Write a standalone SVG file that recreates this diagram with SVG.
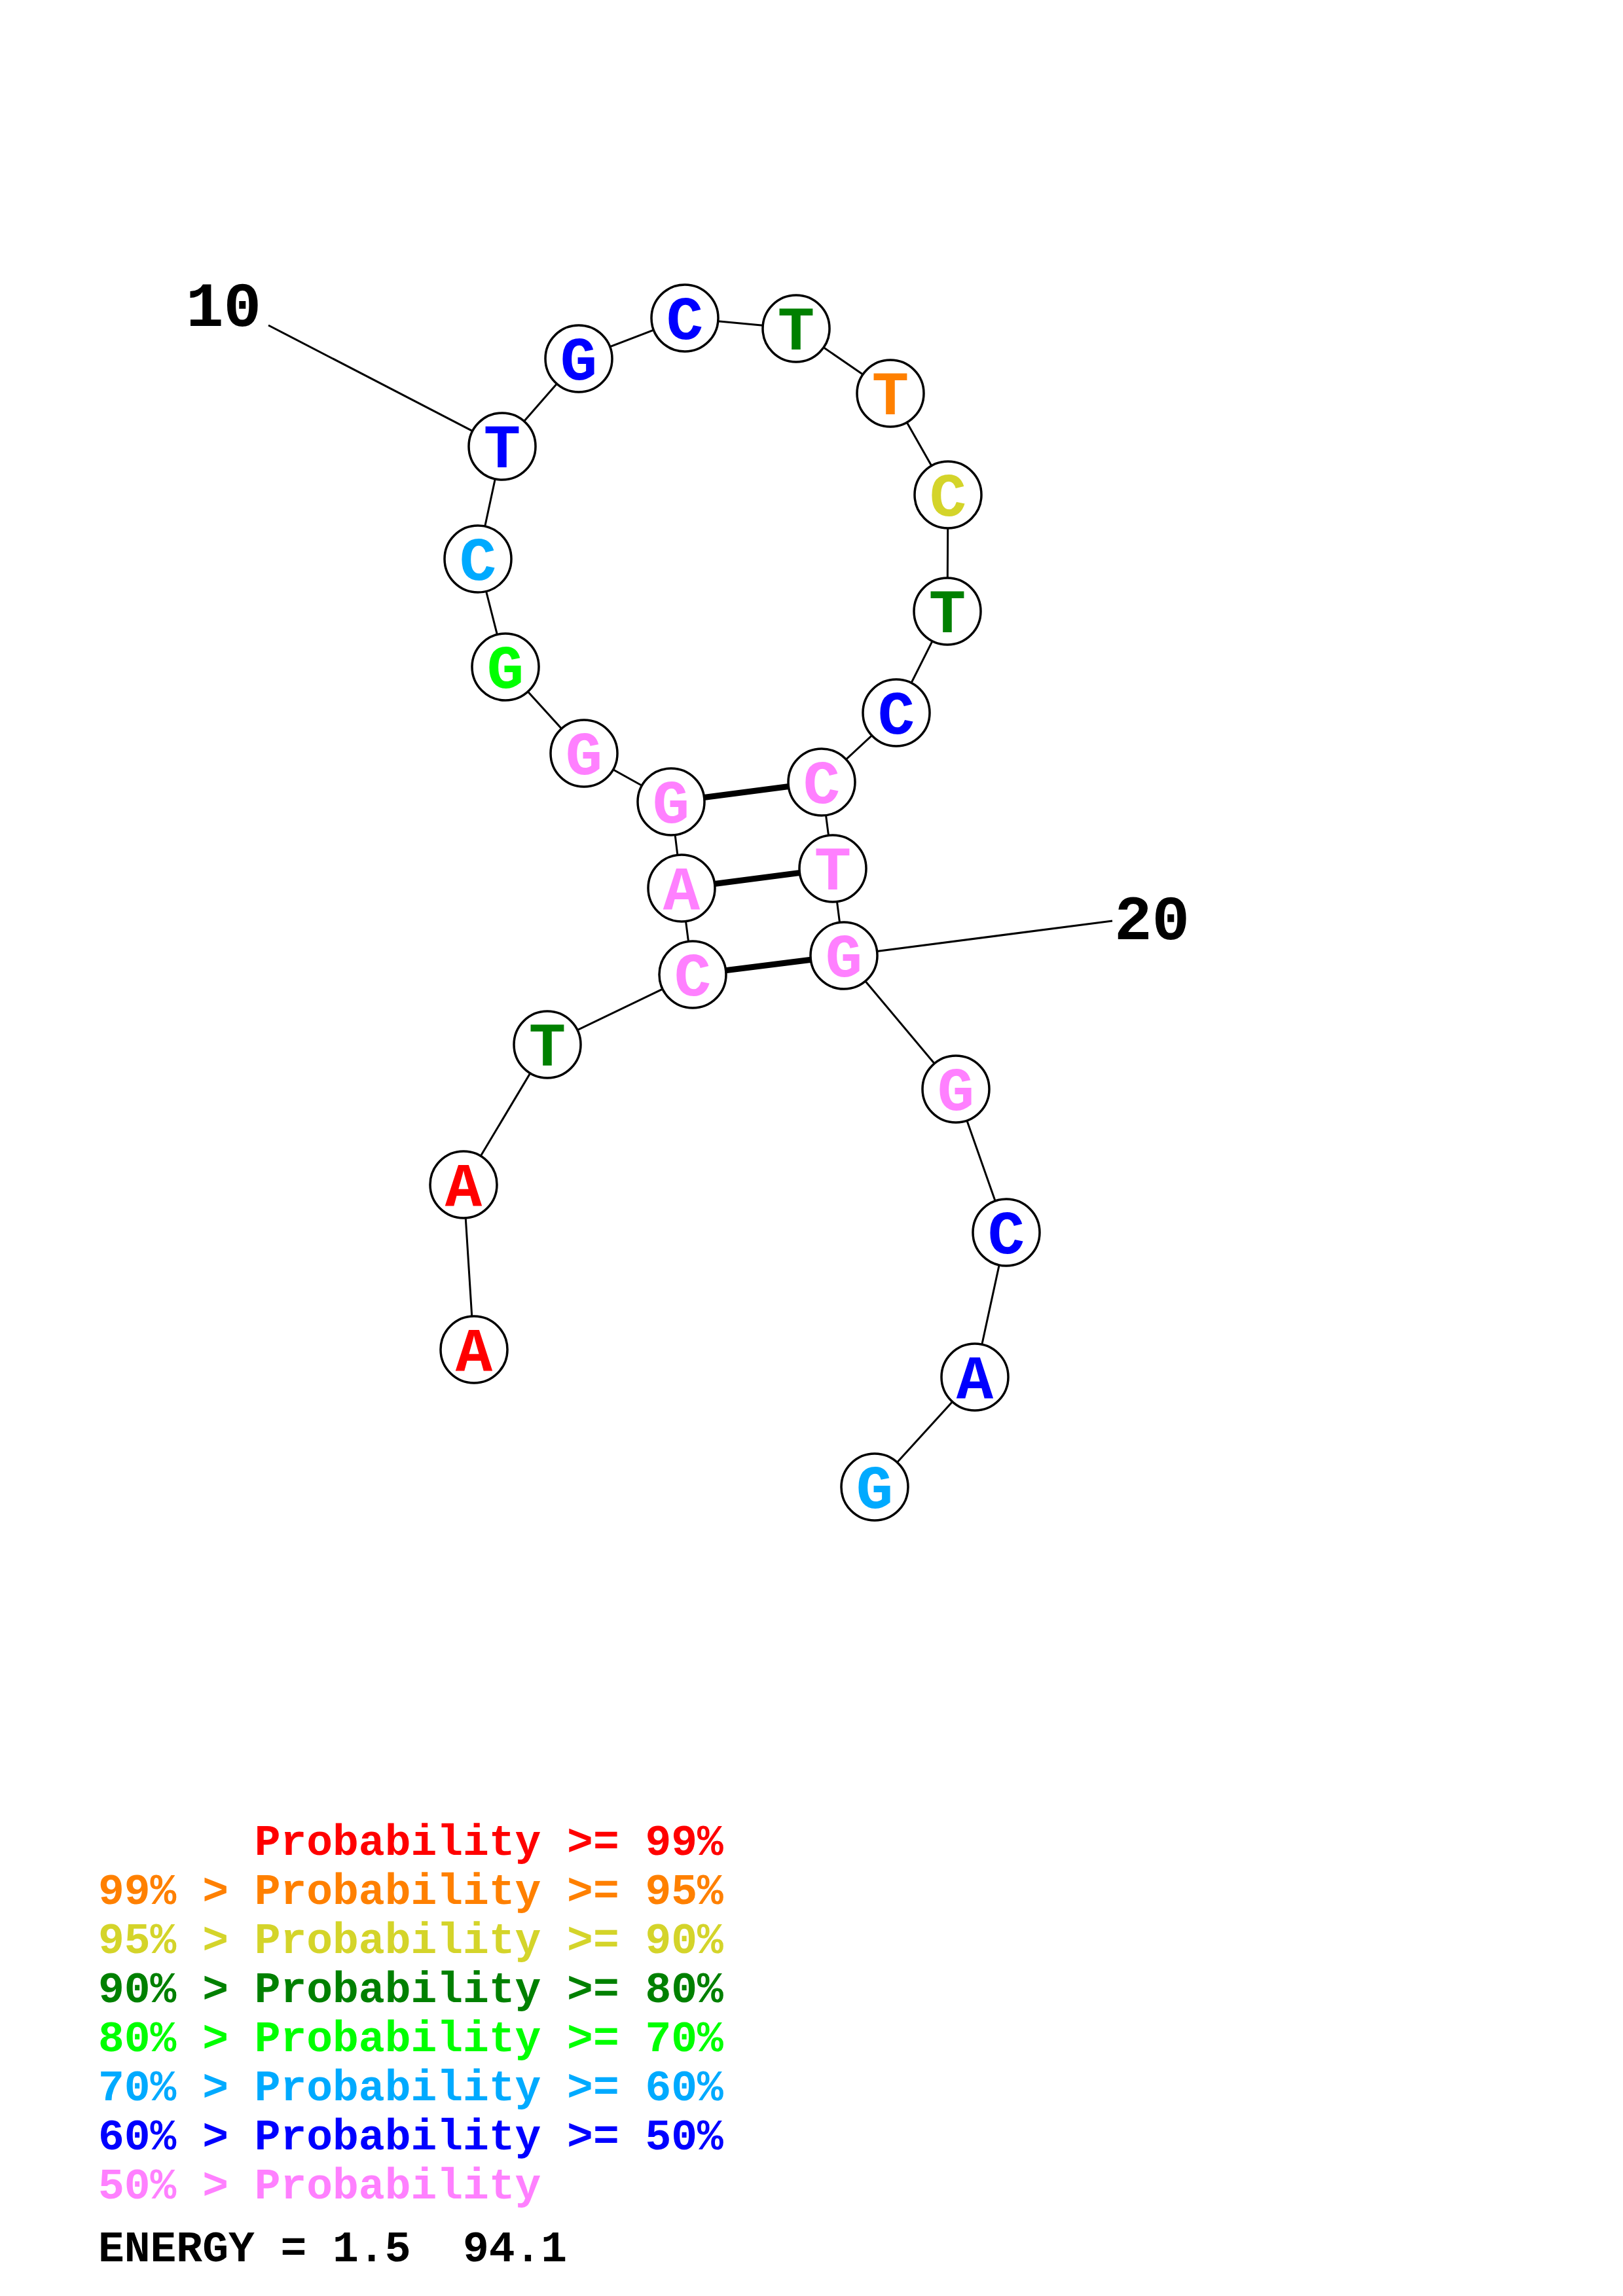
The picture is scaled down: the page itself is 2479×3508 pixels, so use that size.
<svg xmlns="http://www.w3.org/2000/svg" width="2479" height="3508" viewBox="0 0 2479 3508">
<style>
.bb{stroke:#000;stroke-width:3;fill:none}
.bp{stroke:#000;stroke-width:9;fill:none}
.nc{fill:#fff;stroke:#000;stroke-width:3.5}
.nl{font-family:"Liberation Mono","Courier New",monospace;font-weight:bold;font-size:94px;text-anchor:middle}
.lbl{font-family:"Liberation Mono","Courier New",monospace;font-weight:bold;font-size:96px;fill:#000}
.lg{font-family:"Liberation Mono","Courier New",monospace;font-weight:bold;font-size:66.3px;white-space:pre}
.r{fill:#FF0000}.o{fill:#FF8000}.y{fill:#D4D42A}.dg{fill:#008000}.g{fill:#00FF00}.s{fill:#00AAFF}.b{fill:#0000FF}.p{fill:#FF80FF}
</style>
<rect width="2479" height="3508" fill="#fff"/>
<g id="connectors">
<polyline class="bb" points="724,2062 708,1810 836,1596 1058,1489 1041,1357 1025,1225 892,1151 772,1019 730,854 767,682 884,548 1046,486 1216,502 1360,601 1448,756 1447,934 1369,1089 1255,1195 1272,1327 1289,1460 1460,1664 1537,1883 1489,2104 1336,2272"/>
<line class="bp" x1="1025" y1="1225" x2="1255" y2="1195"/>
<line class="bp" x1="1041" y1="1357" x2="1272" y2="1327"/>
<line class="bp" x1="1058" y1="1489" x2="1289" y2="1460"/>
<line class="bb" x1="767" y1="682" x2="410" y2="497"/>
<line class="bb" x1="1289" y1="1460" x2="1699" y2="1407"/>
</g>
<g id="labels">
<text class="lbl" x="284" y="498">10</text>
<text class="lbl" x="1702" y="1435">20</text>
</g>
<g id="n1"><circle class="nc" cx="724" cy="2062" r="51"/><text class="nl r" x="724" y="2094">A</text></g>
<g id="n2"><circle class="nc" cx="708" cy="1810" r="51"/><text class="nl r" x="708" y="1842">A</text></g>
<g id="n3"><circle class="nc" cx="836" cy="1596" r="51"/><text class="nl dg" x="836" y="1628">T</text></g>
<g id="n4"><circle class="nc" cx="1058" cy="1489" r="51"/><text class="nl p" x="1058" y="1521">C</text></g>
<g id="n5"><circle class="nc" cx="1041" cy="1357" r="51"/><text class="nl p" x="1041" y="1389">A</text></g>
<g id="n6"><circle class="nc" cx="1025" cy="1225" r="51"/><text class="nl p" x="1025" y="1257">G</text></g>
<g id="n7"><circle class="nc" cx="892" cy="1151" r="51"/><text class="nl p" x="892" y="1183">G</text></g>
<g id="n8"><circle class="nc" cx="772" cy="1019" r="51"/><text class="nl g" x="772" y="1051">G</text></g>
<g id="n9"><circle class="nc" cx="730" cy="854" r="51"/><text class="nl s" x="730" y="886">C</text></g>
<g id="n10"><circle class="nc" cx="767" cy="682" r="51"/><text class="nl b" x="767" y="714">T</text></g>
<g id="n11"><circle class="nc" cx="884" cy="548" r="51"/><text class="nl b" x="884" y="580">G</text></g>
<g id="n12"><circle class="nc" cx="1046" cy="486" r="51"/><text class="nl b" x="1046" y="518">C</text></g>
<g id="n13"><circle class="nc" cx="1216" cy="502" r="51"/><text class="nl dg" x="1216" y="534">T</text></g>
<g id="n14"><circle class="nc" cx="1360" cy="601" r="51"/><text class="nl o" x="1360" y="633">T</text></g>
<g id="n15"><circle class="nc" cx="1448" cy="756" r="51"/><text class="nl y" x="1448" y="788">C</text></g>
<g id="n16"><circle class="nc" cx="1447" cy="934" r="51"/><text class="nl dg" x="1447" y="966">T</text></g>
<g id="n17"><circle class="nc" cx="1369" cy="1089" r="51"/><text class="nl b" x="1369" y="1121">C</text></g>
<g id="n18"><circle class="nc" cx="1255" cy="1195" r="51"/><text class="nl p" x="1255" y="1227">C</text></g>
<g id="n19"><circle class="nc" cx="1272" cy="1327" r="51"/><text class="nl p" x="1272" y="1359">T</text></g>
<g id="n20"><circle class="nc" cx="1289" cy="1460" r="51"/><text class="nl p" x="1289" y="1492">G</text></g>
<g id="n21"><circle class="nc" cx="1460" cy="1664" r="51"/><text class="nl p" x="1460" y="1696">G</text></g>
<g id="n22"><circle class="nc" cx="1537" cy="1883" r="51"/><text class="nl b" x="1537" y="1915">C</text></g>
<g id="n23"><circle class="nc" cx="1489" cy="2104" r="51"/><text class="nl b" x="1489" y="2136">A</text></g>
<g id="n24"><circle class="nc" cx="1336" cy="2272" r="51"/><text class="nl s" x="1336" y="2304">G</text></g>
<g id="legend">
<text class="lg r" x="150" y="2834" xml:space="preserve">      Probability &gt;= 99%</text>
<text class="lg o" x="150" y="2909" xml:space="preserve">99% &gt; Probability &gt;= 95%</text>
<text class="lg y" x="150" y="2984" xml:space="preserve">95% &gt; Probability &gt;= 90%</text>
<text class="lg dg" x="150" y="3059" xml:space="preserve">90% &gt; Probability &gt;= 80%</text>
<text class="lg g" x="150" y="3134" xml:space="preserve">80% &gt; Probability &gt;= 70%</text>
<text class="lg s" x="150" y="3209" xml:space="preserve">70% &gt; Probability &gt;= 60%</text>
<text class="lg b" x="150" y="3284" xml:space="preserve">60% &gt; Probability &gt;= 50%</text>
<text class="lg p" x="150" y="3359" xml:space="preserve">50% &gt; Probability</text>
<text class="lg" x="150" y="3455" fill="#000" xml:space="preserve">ENERGY = 1.5  94.1</text>
</g>
</svg>
